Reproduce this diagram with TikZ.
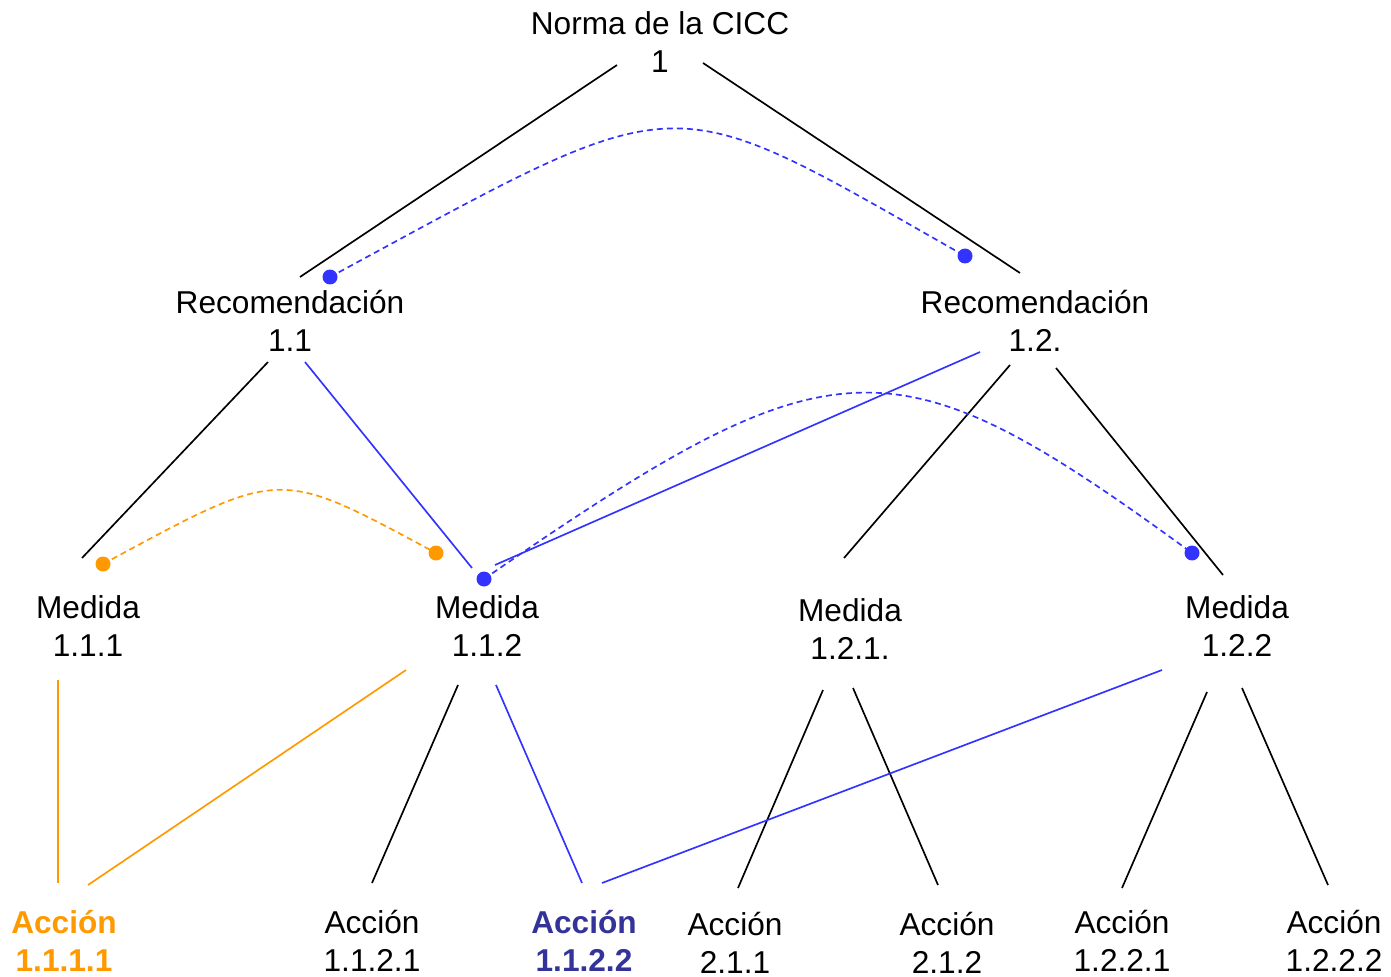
\documentclass[tikz,border=0pt]{standalone}
\usepackage{fontspec}
\setmainfont{Liberation Sans}
\usetikzlibrary{calc,positioning,arrows.meta}
\definecolor{orangeline}{RGB}{255,153,0}
\definecolor{blueline}{RGB}{51,51,255}
\definecolor{bluetext}{RGB}{51,51,153}

\begin{document}
\begin{tikzpicture}[
  x=0.02cm, y=-0.02cm,
  level/.style={align=center, inner sep=0pt, font=\fontsize{18}{21.6}\selectfont},
  accion/.style={level},
  accionbf/.style={level, font=\bfseries\fontsize{18}{21.6}\selectfont},
  link/.style={line width=0.95pt},
  rel/.style={line width=0.95pt, dash pattern=on 3.4pt off 2.3pt},
  dot/.style={circle, fill, inner sep=0pt, minimum size=0.3cm},
  ]
  \useasboundingbox (0,0) rectangle (1391,976);

  % levels
  \node (norma) [level] at(660,42) {Norma de la CICC\\1};
  \node (rec11) [level] at(290,321) {Recomendación\\1.1};
  \node (rec12) [level] at(1035,321) {Recomendación\\1.2.};
  \node (med111) [level] at(88,626) {Medida\\1.1.1};
  \node (med112) [level] at(487,626) {Medida\\1.1.2};
  \node (med121) [level] at(850,629) {Medida\\1.2.1.};
  \node (med122) [level] at(1237,626) {Medida\\1.2.2};

  \node (a1111) [accionbf, text=orangeline] at(64,941) {Acción\\1.1.1.1};
  \node (a1121) [accion] at(372,941) {Acción\\1.1.2.1};
  \node (a1122) [accionbf, text=bluetext] at(584,941) {Acción\\1.1.2.2};
  \node (a211) [accion] at(735,943) {Acción\\2.1.1};
  \node (a212) [accion] at(947,943) {Acción\\2.1.2};
  \node (a1221) [accion] at(1122,941) {Acción\\1.2.2.1};
  \node (a1222) [accion] at(1334,941) {Acción\\1.2.2.2};

  % tree
  \foreach \a/\ao/\b/\bo in {norma/{-43,23}/rec11/{10,-44}, norma/{43,21}/rec12/{-15,-48},
    rec11/{-22,41}/med111/{-6,-68}, rec12/{-25,44}/med121/{-6,-71}, rec12/{21,47}/med122/{-14,-51},
    med112/{-29,59}/a1121/{0,-58}, med121/{-27,61}/a211/{3,-55}, med121/{3,59}/a212/{-9,-58},
    med122/{-30,66}/a1221/{0,-53}, med122/{5,62}/a1222/{-6,-56}}
  \draw[link] ($(\a)+(\ao)$) -- ($(\b)+(\bo)$);

  \draw[link,blueline] ($(rec11)+(15,41)$) -- ($(med112)+(-15,-58)$);
  \draw[link,blueline] ($(rec12)+(-55,31)$) -- ($(med112)+(8,-61)$);
  \draw[link,blueline] ($(med112)+(9,59)$) -- ($(a1122)+(-2,-58)$);
  \draw[link,blueline] ($(med122)+(-75,44)$) -- ($(a1122)+(18,-58)$);

  \draw[link,orangeline] ($(med111)+(-30,54)$) -- ($(a1111)+(-6,-58)$);
  \draw[link,orangeline] ($(med112)+(-81,44)$) -- ($(a1111)+(24,-56)$);

  % relations
  \node (d1) [dot,blueline] at($(rec11)+(40,-44)$) {};
  \node (d2) [dot,blueline] at($(rec12)+(-70,-65)$) {};
  \node (d3) [dot,orangeline] at($(med111)+(15,-62)$) {};
  \node (d4) [dot,orangeline] at($(med112)+(-51,-73)$) {};
  \node (d5) [dot,blueline] at($(med112)+(-3,-47)$) {};
  \node (d6) [dot,blueline] at($(med122)+(-45,-73)$) {};

  \draw[rel,blueline] (d1.center) .. controls +(361,-195) and +(-305,-173) .. (d2.center);
  \draw[rel,orangeline] (d3.center) .. controls +(180,-97) and +(-160,-86) .. (d4.center);
  \draw[rel,blueline] (d5.center) .. controls +(352,-243) and +(-300,-219) .. (d6.center);

\end{tikzpicture}
\end{document}
